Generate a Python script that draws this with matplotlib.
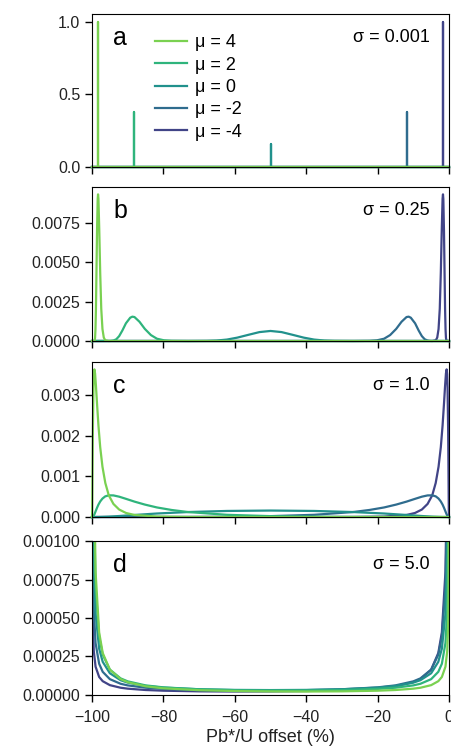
import matplotlib
matplotlib.use("Agg")
import matplotlib.pyplot as plt
from matplotlib.ticker import FormatStrFormatter

plt.rcParams['font.family'] = ['Liberation Sans', 'DejaVu Sans']

# legend order (top to bottom)
mu_values = [4, 2, 0, -2, -4]
sigma_labels = ['0.001', '0.25', '1.0', '5.0']
panel_letters = ['a', 'b', 'c', 'd']

# ---- panel a (sigma = 0.001): single spikes ----
a_spike_x = [-98.2, -88.1, -50.0, -11.9, -1.8]
a_spike_y = [1.0, 0.38, 0.16, 0.38, 1.0]

# ---- panel b (sigma = 0.25) ----
b_x_mu4 = [-100, -99.33, -99.24, -99.14, -99.03, -98.90, -98.76, -98.59, -98.41, -98.31, -98.20,
           -97.97, -97.70, -97.41, -97.07, -96.7, -96.3, -95.3, 0]
b_y_mu4 = [0, 8e-6, 4.6e-5, 2.1e-4, 7.3e-4, 1.99e-3, 4.22e-3, 6.98e-3, 9.0e-3, 9.3e-3, 9.03e-3,
           7.08e-3, 4.31e-3, 2.05e-3, 7.59e-4, 2.19e-4, 4.9e-5, 1.2e-6, 0]
b_x_mu2 = [-100, -95.3, -94.7, -94.0, -93.2, -92.4, -91.5, -90.5, -89.3, -88.7, -88.1,
           -86.7, -85.2, -83.5, -81.8, -79.8, -77.7, -73.1, 0]
b_y_mu2 = [0, 1.2e-6, 7e-6, 3.1e-5, 1.11e-4, 3.08e-4, 6.65e-4, 1.123e-3, 1.478e-3, 1.545e-3, 1.520e-3,
           1.221e-3, 7.68e-4, 3.77e-4, 1.45e-4, 4.3e-5, 1.0e-5, 2.7e-7, 0]
b_x_mu0 = [-100, -73.1, -67.9, -65.1, -62.2, -59.3, -56.2, -53.1, -50, -46.9, -43.8, -40.7,
           -37.8, -34.9, -32.1, -26.9, 0]
b_y_mu0 = [0, 3e-7, 8e-6, 3.1e-5, 9.2e-5, 2.15e-4, 3.93e-4, 5.66e-4, 6.38e-4, 5.66e-4, 3.93e-4, 2.15e-4,
           9.2e-5, 3.1e-5, 8e-6, 3e-7, 0]
b_x_mum2 = [-100, -26.9, -22.3, -20.2, -18.2, -16.5, -14.8, -13.3, -11.9, -11.3, -10.7,
            -9.5, -8.5, -7.6, -6.8, -6.0, -5.3, -4.7, 0]
b_y_mum2 = [0, 2.7e-7, 1.0e-5, 4.3e-5, 1.45e-4, 3.77e-4, 7.68e-4, 1.221e-3, 1.520e-3, 1.545e-3, 1.478e-3,
            1.123e-3, 6.65e-4, 3.08e-4, 1.11e-4, 3.1e-5, 7e-6, 1.2e-6, 0]
b_x_mum4 = [-100, -4.7, -3.7, -3.3, -2.93, -2.59, -2.30, -2.03, -1.80, -1.69, -1.59,
            -1.41, -1.24, -1.10, -0.97, -0.86, -0.76, -0.67, 0]
b_y_mum4 = [0, 1.2e-6, 4.9e-5, 2.19e-4, 7.59e-4, 2.05e-3, 4.31e-3, 7.08e-3, 9.03e-3, 9.3e-3, 9.0e-3,
            6.98e-3, 4.22e-3, 1.99e-3, 7.3e-4, 2.1e-4, 4.6e-5, 8e-6, 0]

# ---- panel c (sigma = 1.0) ----
c_x_mu4 = [-100, -99.94, -99.91, -99.85, -99.75, -99.59, -99.48, -99.33, -99.14, -98.9, -98.59, -98.2,
           -97.7, -97.07, -96.27, -95.3, -94.0, -92.4, -90.47, -88.1, -81.8, -73.1, -50, 0]
c_y_mu4 = [0, 1.6e-4, 4.9e-4, 1.17e-3, 2.19e-3, 3.20e-3, 3.52e-3, 3.64e-3, 3.54e-3, 3.24e-3, 2.79e-3, 2.26e-3,
           1.72e-3, 1.24e-3, 8.39e-4, 5.35e-4, 3.23e-4, 1.85e-4, 1.0e-4, 5.1e-5, 1.2e-5, 2.3e-6, 5e-8, 0]
c_x_mu2 = [-100, -99.75, -99.59, -99.33, -98.9, -98.59, -98.2, -97.7, -97.07, -96.3, -95.3, -94.0,
           -92.4, -90.5, -88.1, -85.2, -81.8, -77.7, -73.1, -62.2, -50, -37.8, -26.9, 0]
c_y_mu2 = [0, 5e-6, 2.2e-5, 6.7e-5, 1.61e-4, 2.29e-4, 3.06e-4, 3.84e-4, 4.55e-4, 5.09e-4, 5.35e-4, 5.33e-4,
           5.02e-4, 4.49e-4, 3.80e-4, 3.07e-4, 2.36e-4, 1.74e-4, 1.23e-4, 5.5e-5, 2.2e-5, 7.4e-6, 2.3e-6, 0]
c_x_mu0 = [-100, -98.2, -95.3, -92.4, -88.1, -81.8, -73.1, -62.2, -50, -37.8, -26.9, -18.2,
           -11.9, -7.6, -4.7, -1.8, 0]
c_y_mu0 = [0, 7.6e-7, 9.8e-6, 2.5e-5, 5.1e-5, 8.7e-5, 1.23e-4, 1.50e-4, 1.60e-4, 1.50e-4, 1.23e-4, 8.7e-5,
           5.1e-5, 2.5e-5, 9.8e-6, 7.6e-7, 0]
c_x_mum2 = [-100, -73.1, -62.2, -50, -37.8, -26.9, -22.3, -18.2, -14.8, -11.9, -9.5, -7.6,
            -6.0, -4.7, -3.7, -2.93, -2.3, -1.8, -1.41, -1.1, -0.67, -0.41, -0.25, 0]
c_y_mum2 = [0, 2.3e-6, 7.4e-6, 2.2e-5, 5.5e-5, 1.23e-4, 1.74e-4, 2.36e-4, 3.07e-4, 3.80e-4, 4.49e-4, 5.02e-4,
            5.33e-4, 5.35e-4, 5.09e-4, 4.55e-4, 3.84e-4, 3.06e-4, 2.29e-4, 1.61e-4, 6.7e-5, 2.2e-5, 5e-6, 0]
c_x_mum4 = [-100, -50, -26.9, -18.2, -11.9, -9.53, -7.6, -6.0, -4.7, -3.73, -2.93, -2.3,
            -1.8, -1.41, -1.1, -0.86, -0.67, -0.52, -0.41, -0.25, -0.15, -0.09, -0.06, 0]
c_y_mum4 = [0, 5e-8, 2.3e-6, 1.2e-5, 5.1e-5, 1.0e-4, 1.85e-4, 3.23e-4, 5.35e-4, 8.39e-4, 1.24e-3, 1.72e-3,
            2.26e-3, 2.79e-3, 3.24e-3, 3.54e-3, 3.64e-3, 3.52e-3, 3.20e-3, 2.19e-3, 1.17e-3, 4.9e-4, 1.6e-4, 0]

# ---- panel d (sigma = 5.0), shared x grid ----
d_x = [-99.98, -99.9, -99.8, -99.5, -99, -98, -97, -95, -92, -90, -85, -80, -70, -60, -50,
       -40, -30, -20, -15, -10, -8, -5, -3, -2, -1, -0.5, -0.2, -0.1, -0.02]
d_y_mu4 = [2.65e-2, 6.74e-3, 3.62e-3, 1.551e-3, 8.00e-4, 4.07e-4, 2.73e-4, 1.643e-4, 1.033e-4, 8.31e-5,
           5.64e-5, 4.34e-5, 3.11e-5, 2.57e-5, 2.32e-5, 2.25e-5, 2.37e-5, 2.79e-5, 3.24e-5, 4.11e-5,
           4.72e-5, 6.40e-5, 8.97e-5, 1.171e-4, 1.838e-4, 2.85e-4, 4.96e-4, 7.39e-4, 1.74e-3]
d_y_mu2 = [1.70e-2, 4.93e-3, 2.81e-3, 1.290e-3, 7.03e-4, 3.79e-4, 2.62e-4, 1.650e-4, 1.080e-4, 8.86e-5,
           6.25e-5, 4.95e-5, 3.70e-5, 3.16e-5, 2.95e-5, 2.96e-5, 3.23e-5, 3.97e-5, 4.73e-5, 6.24e-5,
           7.30e-5, 1.029e-4, 1.505e-4, 2.03e-4, 3.37e-4, 5.53e-4, 1.037e-3, 1.63e-3, 4.37e-3]
d_y_mu0 = [9.35e-3, 3.08e-3, 1.846e-3, 9.16e-4, 5.28e-4, 3.007e-4, 2.154e-4, 1.412e-4, 9.61e-5, 8.04e-5,
           5.89e-5, 4.80e-5, 3.74e-5, 3.31e-5, 3.19e-5, 3.31e-5, 3.74e-5, 4.80e-5, 5.89e-5, 8.04e-5,
           9.61e-5, 1.412e-4, 2.154e-4, 3.007e-4, 5.28e-4, 9.16e-4, 1.846e-3, 3.08e-3, 9.35e-3]
d_y_mum2 = [4.37e-3, 1.63e-3, 1.037e-3, 5.53e-4, 3.37e-4, 2.03e-4, 1.505e-4, 1.029e-4, 7.30e-5, 6.24e-5,
            4.73e-5, 3.97e-5, 3.23e-5, 2.96e-5, 2.95e-5, 3.16e-5, 3.70e-5, 4.95e-5, 6.25e-5, 8.86e-5,
            1.080e-4, 1.650e-4, 2.62e-4, 3.79e-4, 7.03e-4, 1.290e-3, 2.81e-3, 4.93e-3, 1.70e-2]
d_y_mum4 = [1.74e-3, 7.39e-4, 4.96e-4, 2.85e-4, 1.838e-4, 1.171e-4, 8.97e-5, 6.40e-5, 4.72e-5, 4.11e-5,
            3.24e-5, 2.79e-5, 2.37e-5, 2.25e-5, 2.32e-5, 2.57e-5, 3.11e-5, 4.34e-5, 5.64e-5, 8.31e-5,
            1.033e-4, 1.643e-4, 2.73e-4, 4.07e-4, 8.00e-4, 1.551e-3, 3.62e-3, 6.74e-3, 2.65e-2]

# curves per panel, in legend order (mu = 4 ... -4)
panel_a = [([-100, x, x, x, 0], [0, 0, y, 0, 0]) for x, y in zip(a_spike_x, a_spike_y)]
panel_b = [(b_x_mu4, b_y_mu4), (b_x_mu2, b_y_mu2), (b_x_mu0, b_y_mu0), (b_x_mum2, b_y_mum2), (b_x_mum4, b_y_mum4)]
panel_c = [(c_x_mu4, c_y_mu4), (c_x_mu2, c_y_mu2), (c_x_mu0, c_y_mu0), (c_x_mum2, c_y_mum2), (c_x_mum4, c_y_mum4)]
panel_d = [(d_x, d_y_mu4), (d_x, d_y_mu2), (d_x, d_y_mu0), (d_x, d_y_mum2), (d_x, d_y_mum4)]
panels = [panel_a, panel_b, panel_c, panel_d]

yticks = [[0, 0.5, 1.0],
          [0, 0.0025, 0.005, 0.0075],
          [0, 0.001, 0.002, 0.003],
          [0, 0.00025, 0.0005, 0.00075, 0.001]]
yfmt = ['%.1f', '%.4f', '%.3f', '%.5f']

colors = [plt.cm.viridis(v) for v in [0.8, 0.65, 0.5, 0.35, 0.2]]

fig = plt.figure(figsize=(4.51, 7.49), dpi=100)
positions = [[0.204, 0.777, 0.7916, 0.204],
             [0.204, 0.5447, 0.7916, 0.2056],
             [0.204, 0.3097, 0.7916, 0.207],
             [0.204, 0.0721, 0.7916, 0.2056]]

for i, curves in enumerate(panels):
    ax = fig.add_axes(positions[i])
    handles = []
    # draw mu = -4 first so mu = 4 ends up on top
    for j in reversed(range(len(curves))):
        xs, ys = curves[j]
        line, = ax.plot(xs, ys, color=colors[j], lw=1.6, clip_on=(i == 3),
                        label='μ = %d' % mu_values[j])
        handles.insert(0, line)

    ax.set_xlim(-100, 0)
    if i == 3:
        ax.set_ylim(0, 0.001)
    else:
        ymax = max(max(ys) for xs, ys in curves)
        ax.set_ylim(0, ymax * 1.05)
    ax.set_yticks(yticks[i])
    ax.yaxis.set_major_formatter(FormatStrFormatter(yfmt[i]))
    ax.set_xticks([-100, -80, -60, -40, -20, 0])
    ax.tick_params(direction='out', length=5, width=1, labelsize=11.5, labelcolor='#222222')
    ax.tick_params(axis='x', pad=6)
    if i < 3:
        ax.set_xticklabels([])
    else:
        ax.set_xlabel('Pb*/U offset (%)', fontsize=13, labelpad=3, color='#222222')

    ax.text(0.06, 0.80, panel_letters[i], transform=ax.transAxes, fontsize=18,
            ha='left', va='baseline')
    ax.text(0.945, 0.82, 'σ = ' + sigma_labels[i], transform=ax.transAxes, fontsize=13,
            ha='right', va='baseline')

    if i == 0:
        ax.legend(handles=handles, loc='upper left', bbox_to_anchor=(0.176, 0.87),
                  frameon=False, fontsize=13, borderaxespad=0, borderpad=0,
                  handlelength=1.8, handletextpad=0.45, labelspacing=0.3)

fig.savefig('out.png', dpi=100)
